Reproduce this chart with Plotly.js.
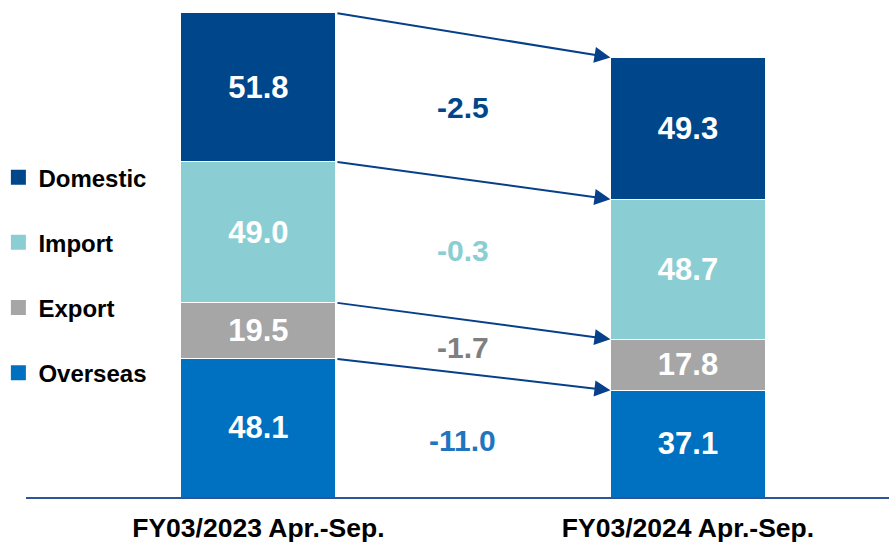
<!DOCTYPE html>
<html>
<head>
<meta charset="utf-8">
<script src="https://cdn.plot.ly/plotly-3.0.1.min.js"></script>
<style>html,body{margin:0;padding:0;background:#fff;}#chart{width:889px;height:543px;}</style>
</head>
<body>
<div id="chart"></div>
<script>
// ---- data ----
const periods = ["FY03/2023 Apr.-Sep.", "FY03/2024 Apr.-Sep."];
const seriesNames = ["Overseas", "Export", "Import", "Domestic"]; // bottom to top
const overseas = [48.1, 37.1];
const exportV  = [19.5, 17.8];
const importV  = [49.0, 48.7];
const domestic = [51.8, 49.3];

// ---- styles ----
const colors = {Overseas:"#0070C0", Export:"#A6A6A6", Import:"#8ACED3", Domestic:"#00468B"};
const diffColors = {Overseas:"#1F76BE", Export:"#7F7F7F", Import:"#8ACED3", Domestic:"#00468B"};
const diffShift = {Overseas:-5, Export:0, Import:0, Domestic:0};
const FONT = "Liberation Sans, Arial, sans-serif";
const arrowColor = "#06408A";
const barWidth = 0.361;

const values = {Overseas:overseas, Export:exportV, Import:importV, Domestic:domestic};
const rank = {Domestic:1, Import:2, Export:3, Overseas:4};

const traces = seriesNames.map(name => ({
  type: "bar",
  name: name,
  x: [0, 1],
  y: values[name],
  width: barWidth,
  marker: {color: colors[name], line: {color: "#ffffff", width: 1}},
  texttemplate: "%{y:.1f}",
  textposition: "inside",
  insidetextanchor: "middle",
  constraintext: "none",
  textangle: 0,
  textfont: {family: FONT, size: 31, color: "#ffffff", weight: "bold"},
  showlegend: false,
  hoverinfo: "skip"
}));

// legend entries (square swatches)
seriesNames.forEach(name => {
  traces.push({
    type: "scatter", mode: "markers", name: name,
    x: [null], y: [null],
    marker: {symbol: "square", size: 15, color: colors[name]},
    legendgroup: name, legendrank: rank[name], showlegend: true,
    hoverinfo: "skip"
  });
});

// cumulative tops and midpoints
const annotations = [];
let cum0 = 0, cum1 = 0;
seriesNames.forEach(name => {
  const v = values[name];
  const mid0 = cum0 + v[0] / 2, mid1 = cum1 + v[1] / 2;
  cum0 += v[0]; cum1 += v[1];
  annotations.push({
    x: 1 - barWidth / 2, y: cum1, xref: "x", yref: "y",
    ax: barWidth / 2, ay: cum0, axref: "x", ayref: "y",
    showarrow: true, arrowhead: 2, arrowsize: 1.6, arrowwidth: 2,
    arrowcolor: arrowColor, text: ""
  });
  const d = v[1] - v[0];
  annotations.push({
    x: 0.476, y: (mid0 + mid1) / 2, xref: "x", yref: "y",
    yshift: diffShift[name],
    text: (d > 0 ? "+" : "") + d.toFixed(1), showarrow: false,
    font: {family: FONT, size: 30, color: diffColors[name], weight: "bold"}
  });
});

const layout = {
  width: 889, height: 543,
  margin: {l: 26, r: 0, t: 0, b: 46, pad: 0, autoexpand: false},
  barmode: "stack",
  paper_bgcolor: "#ffffff", plot_bgcolor: "#ffffff",
  showlegend: true,
  legend: {
    x: -0.032, y: 0.688, xanchor: "left", yanchor: "top",
    traceorder: "grouped", tracegroupgap: 31,
    font: {family: FONT, size: 24, color: "#000000", weight: "bold"},
    bgcolor: "rgba(0,0,0,0)", borderwidth: 0
  },
  xaxis: {
    range: [-0.541, 1.468], tickvals: [0, 1], ticktext: periods,
    showline: true, linecolor: "#2F5597", linewidth: 1.5,
    showgrid: false, zeroline: false, ticks: "",
    ticklabelstandoff: 7,
    tickfont: {family: FONT, size: 26.5, color: "#000000", weight: "bold"},
    fixedrange: true
  },
  yaxis: {
    range: [0, 172.9], visible: false, showgrid: false, zeroline: false, fixedrange: true
  },
  annotations: annotations,
  font: {family: FONT}
};

Plotly.newPlot("chart", traces, layout, {staticPlot: true, displayModeBar: false});
</script>
</body>
</html>
